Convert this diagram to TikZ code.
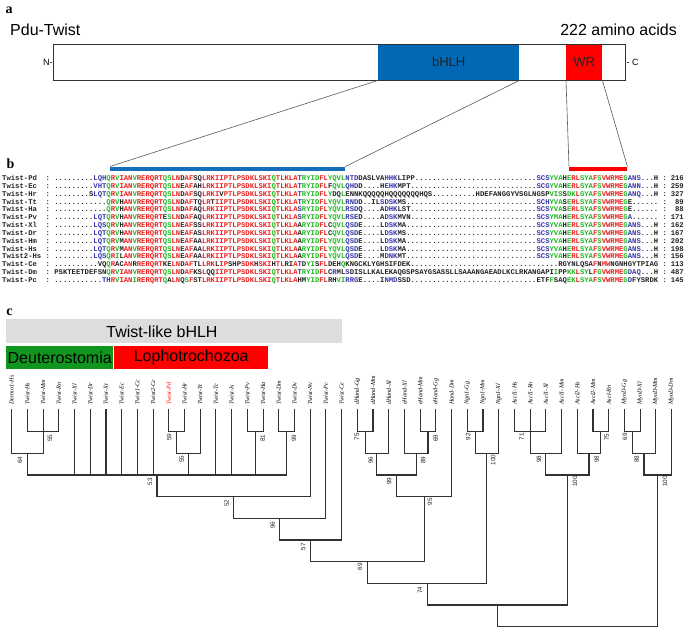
\documentclass[tikz,border=0pt]{standalone}
\usepackage{fontspec}
\setmainfont{Liberation Serif}
\setsansfont{Liberation Sans}
\setmonofont{Liberation Mono}
\definecolor{aared}{RGB}{238,30,30}
\definecolor{aagreen}{RGB}{30,185,30}
\definecolor{aablue}{RGB}{55,55,170}
\definecolor{aatext}{RGB}{35,35,35}
\definecolor{hlhblue}{RGB}{0,104,180}
\definecolor{barblue}{RGB}{20,110,185}
\definecolor{wrred}{RGB}{255,0,0}
\definecolor{deugreen}{RGB}{16,150,30}
\definecolor{boxgray}{RGB}{221,221,221}
\definecolor{treegray}{RGB}{50,50,50}
\definecolor{conngray}{RGB}{90,90,90}
\newcommand\xr[1]{\textcolor{aared}{#1}}
\newcommand\xg[1]{\textcolor{aagreen}{#1}}
\newcommand\xb[1]{\textcolor{aablue}{#1}}
\newcount\dotcnt
\newcommand\dotsn[1]{\dotcnt=#1\relax\loop\ifnum\dotcnt>0 .\advance\dotcnt by -1\repeat}
\begin{document}
\begin{tikzpicture}[x=1pt,y=-1pt,
  plab/.style={inner sep=0pt,font=\bfseries\fontsize{14}{14}\selectfont},
  seqtxt/.style={anchor=base west,inner sep=0pt,text=aatext,font=\ttfamily\bfseries\fontsize{7.24}{8}\selectfont},
  seqnum/.style={anchor=base east,inner sep=0pt,text=aatext,font=\ttfamily\bfseries\fontsize{7.24}{8}\selectfont},
  conn/.style={draw=conngray,line width=0.6pt},
  treeln/.style={draw=treegray,line width=1.1pt,line cap=rect},
  leaflab/.style={rotate=90,anchor=west,inner sep=0pt,font=\itshape\fontsize{6.2}{7}\selectfont},
  bootlab/.style={rotate=90,inner sep=0pt,text=aatext,font=\sffamily\fontsize{6.3}{7}\selectfont},
  bigsans/.style={inner sep=0pt,font=\sffamily\fontsize{16}{18}\selectfont}]
\useasboundingbox (0,0) rectangle (685,629);
\fill[white] (0,0) rectangle (685,629);

% ---------- panel a ----------
\node[plab] (pa) at (9,10) {a};
\node[bigsans,anchor=base west] (pdu) at (10,35) {Pdu-Twist};
\node[bigsans,anchor=base east] (len) at (677,35) {222 amino acids};
\node[fill=white,anchor=north west,minimum width=572,minimum height=36,inner sep=0pt] (bar) at (53,44) {};
\node[fill=hlhblue,anchor=north west,minimum width=141,minimum height=36,inner sep=0pt,text=aatext,font=\sffamily\fontsize{13}{14}\selectfont] (bhlh) at (378,44) {bHLH};
\node[fill=wrred,anchor=north west,minimum width=36,minimum height=36,inner sep=0pt,text=aatext,font=\sffamily\fontsize{13}{14}\selectfont] (wr) at (566,44) {WR};
\draw[draw=treegray,line width=0.8pt] (bar.north west) rectangle (bar.south east);
\node[anchor=east,inner sep=0pt,font=\sffamily\fontsize{9}{10}\selectfont] (nterm) at ([xshift=-0.3]bar.west) {N-};
\node[anchor=west,inner sep=0pt,font=\sffamily\fontsize{9}{10}\selectfont] (cterm) at ([xshift=1]bar.east) {- C};

% ---------- panel b ----------
\node[plab] (pb) at (10.5,163.5) {b};
\node[fill=barblue,anchor=north west,minimum width=235,minimum height=4.5,inner sep=0pt] (bbar) at (110,166.5) {};
\node[fill=wrred,anchor=north west,minimum width=58,minimum height=4.5,inner sep=0pt] (rbar) at (569,166.5) {};
\draw[conn] (bhlh.south west) -- (bbar.north west);
\draw[conn] (bhlh.south east) -- (bbar.north east);
\draw[conn] (wr.south west) -- (rbar.north west);
\draw[conn] (wr.south east) -- (rbar.north east);

\foreach \lab/\num [count=\i] in {Twist-Pd/216,Twist-Ec/259,Twist-Hr/327,Twist-Tt/89,Twist-Ha/88,Twist-Pv/171,Twist-Xl/162,Twist-Dr/167,Twist-Hm/202,Twist-Hs/198,Twist2-Hs/156,Twist-Ce/113,Twist-Dm/487,Twist-Pc/145}{
  \pgfmathsetmacro\yy{180.7+7.82*(\i-1)}
  \node[seqtxt] (lab\i) at (2,\yy) {\lab};
  \node[seqtxt] (col\i) at (45.44,\yy) {:};
  \node[seqtxt] (ecol\i) at (662.3,\yy) {:};
  \node[seqnum] (num\i) at (684,\yy) {\num};
}

\node[seqtxt] (s1) at (54.13,180.70) {\dotsn{9}\xb{LQH}\xg{Q}\xr{R}\xg{V}\xr{IAN}\xg{V}\xr{RERQRT}\xg{QS}\xr{LN}D\xr{AF}SQ\xr{LRKIIPTLPSDKLSKI}\xg{Q}\xr{TLKLA}\xb{T}\xg{RYID}\xr{FL}\xg{YQVL}\xb{NTD}DASLVA\xb{HHK}LIPP\dotsn{28}\xb{SCS}\xg{YVA}H\xg{E}\xr{RL}\xg{SYA}\xr{F}\xg{S}\xr{VWRME}\xg{G}\xb{ANS}\dotsn{3}H};
\node[seqtxt] (s2) at (54.13,188.52) {\dotsn{9}\xb{VHT}\xg{Q}\xr{R}\xg{V}\xr{IAN}\xg{V}\xr{RERQRT}\xg{QS}\xr{LN}E\xr{AF}AH\xr{LRKIIPTLPSDKLSKI}\xg{Q}\xr{TLKLA}\xb{T}\xg{RYID}\xr{FL}F\xg{QVL}\xb{QHD}D\dotsn{4}H\xb{EHK}MPT\dotsn{29}\xb{SCG}\xg{YVA}H\xg{E}\xr{RL}\xg{SYA}\xr{F}\xg{S}\xr{VWRME}\xg{G}\xb{ANN}\dotsn{3}H};
\node[seqtxt] (s3) at (54.13,196.34) {\dotsn{8}S\xb{LQT}\xg{Q}\xr{R}\xg{V}\xr{IAN}\xg{V}\xr{RERQRT}\xg{QS}\xr{LN}D\xr{AF}SQ\xr{LRKI}V\xr{PTLPSDKLSKI}\xg{Q}\xr{TLKLA}\xb{T}\xg{RYID}\xr{FL}\xg{Y}DQ\xg{L}ENNKQQQQQHQQQQQQQHQS\dotsn{10}HDEFANGGYVSGLNGSP\xg{VIS}S\xg{DK}\xr{L}\xg{GYA}\xr{F}\xg{S}\xr{VWRME}\xg{G}\xb{ANQ}\dotsn{3}H};
\node[seqtxt] (s4) at (54.13,204.16) {\dotsn{12}\xg{Q}\xr{R}\xg{V}H\xr{AN}\xg{V}\xr{RERQRT}\xg{QS}\xr{LN}D\xr{AF}TQ\xr{LR}T\xr{IIPTLPSDKLSKI}\xg{Q}\xr{TLKLA}\xb{T}\xg{RYID}\xr{FL}\xg{YQVL}\xb{RND}D\dotsn{2}IL\xb{SDSK}MS\dotsn{30}\xb{SCH}\xg{YVA}S\xg{E}\xr{RL}\xg{SYA}\xr{F}\xg{S}\xr{VWRME}\xg{G}E\dotsn{6}};
\node[seqtxt] (s5) at (54.13,211.98) {\dotsn{12}\xg{Q}\xr{R}\xg{V}H\xr{AN}\xg{V}\xr{RERQRT}\xg{QS}\xr{LN}D\xr{AF}AQ\xr{LRKIIPTLPSDKLSKI}\xg{Q}\xr{TLKLA}\xb{S}\xg{RYID}\xr{FL}\xg{YQVL}\xb{RSD}Q\dotsn{4}A\xb{DHK}LST\dotsn{29}\xb{SCS}\xg{YVA}S\xg{E}\xr{RL}\xg{SYA}\xr{F}\xg{S}\xr{VWRME}\xg{G}E\dotsn{6}};
\node[seqtxt] (s6) at (54.13,219.80) {\dotsn{9}\xb{LQT}\xg{Q}\xr{R}\xg{V}H\xr{AN}\xg{V}\xr{RERQRT}E\xg{S}\xr{LN}D\xr{AF}AQ\xr{LRKIIPTLPSDKLSKI}\xg{Q}\xr{TLKLA}\xb{S}\xg{RYID}\xr{FL}\xg{YQVL}\xb{RSE}D\dotsn{4}A\xb{DSK}MVN\dotsn{29}\xb{SCS}\xg{YMA}H\xg{E}\xr{RL}\xg{SYA}\xr{F}\xg{S}\xr{VWRME}\xg{G}\xb{A}\dotsn{6}};
\node[seqtxt] (s7) at (54.13,227.62) {\dotsn{9}\xb{LQS}\xg{Q}\xr{R}\xg{V}H\xr{AN}\xg{V}\xr{RERQRT}\xg{QS}\xr{LN}E\xr{AF}SS\xr{LRKIIPTLPSDKLSKI}\xg{Q}\xr{TLKLA}A\xg{RYID}\xr{FL}C\xg{QVL}\xb{QSD}E\dotsn{4}L\xb{DSK}MA\dotsn{30}\xb{SCS}\xg{YVA}H\xg{E}\xr{RL}\xg{SYA}\xr{F}\xg{S}\xr{VWRME}\xg{G}\xb{ANS}\dotsn{3}H};
\node[seqtxt] (s8) at (54.13,235.44) {\dotsn{9}\xb{LQT}\xg{Q}\xr{R}\xg{V}H\xr{AN}\xg{V}\xr{RERQRT}\xg{QS}\xr{LN}E\xr{AF}AS\xr{LRKIIPTLPSDKLSKI}\xg{Q}\xr{TLKLA}A\xg{RYID}\xr{FL}C\xg{QVL}\xb{QSD}E\dotsn{4}L\xb{DSK}MS\dotsn{30}\xb{SCS}\xg{YVA}H\xg{E}\xr{RL}\xg{SYA}\xr{F}\xg{S}\xr{VWRME}\xg{G}\xb{ANS}\dotsn{3}H};
\node[seqtxt] (s9) at (54.13,243.26) {\dotsn{9}\xb{LQT}\xg{Q}\xr{R}\xg{V}M\xr{AN}\xg{V}\xr{RERQRT}\xg{QS}\xr{LN}E\xr{AF}AA\xr{LRKIIPTLPSDKLSKI}\xg{Q}\xr{TLKLA}A\xg{RYID}\xr{FL}\xg{YQVL}\xb{QSD}E\dotsn{4}L\xb{DSK}MA\dotsn{30}\xb{SCS}\xg{YVA}H\xg{E}\xr{RL}\xg{SYA}\xr{F}\xg{S}\xr{VWRME}\xg{G}\xb{ANS}\dotsn{3}H};
\node[seqtxt] (s10) at (54.13,251.08) {\dotsn{9}\xb{LQT}\xg{Q}\xr{R}\xg{V}M\xr{AN}\xg{V}\xr{RERQRT}\xg{QS}\xr{LN}E\xr{AF}AA\xr{LRKIIPTLPSDKLSKI}\xg{Q}\xr{TLKLA}A\xg{RYID}\xr{FL}\xg{YQVL}\xb{QSD}E\dotsn{4}L\xb{DSK}MA\dotsn{30}\xb{SCS}\xg{YVA}H\xg{E}\xr{RL}\xg{SYA}\xr{F}\xg{S}\xr{VWRME}\xg{G}\xb{ANS}\dotsn{3}H};
\node[seqtxt] (s11) at (54.13,258.90) {\dotsn{9}\xb{LQS}\xg{Q}\xr{R}\xg{I}L\xr{AN}\xg{V}\xr{RERQRT}\xg{QS}\xr{LN}E\xr{AF}AA\xr{LRKIIPTLPSDKLSKI}\xg{Q}\xr{TLKLA}A\xg{RYID}\xr{FL}\xg{YQVL}\xb{QSD}E\dotsn{4}M\xb{DNK}MT\dotsn{30}\xb{SCS}\xg{YVA}H\xg{E}\xr{RL}\xg{SYA}\xr{F}\xg{S}\xr{VWRME}\xg{G}\xb{ANS}\dotsn{3}H};
\node[seqtxt] (s12) at (54.13,266.72) {\dotsn{10}VQ\xg{Q}\xr{R}AC\xr{AN}R\xr{RERQRT}KE\xr{LN}D\xr{AF}TL\xr{LRK}L\xr{IP}SHP\xr{SDK}H\xr{SKI}H\xr{TL}RI\xr{A}\xb{T}D\xg{YI}S\xr{FL}DEH\xg{Q}KNGCKLYGHSIFDEK\dotsn{34}RGYNLQSA\xr{F}N\xr{MW}NGNHGYTPIAG};
\node[seqtxt] (s13) at (54.13,274.54) {PSKTEETDEFSN\xg{Q}\xr{R}\xg{V}\xr{IAN}\xg{V}\xr{RERQRT}\xg{QS}\xr{LN}D\xr{AF}KS\xr{L}QQ\xr{IIPTLPSDKLSKI}\xg{Q}\xr{TLKLA}\xb{T}\xg{RYID}\xr{FL}C\xb{R}ML\xb{S}DISLLKALEKAQGSPSAYGSASSLLSAAANGAEADLKCLRKANGAPI\xg{I}PP\xg{KK}\xr{L}\xg{SY}L\xr{F}\xg{G}\xr{VWRME}\xg{G}\xb{DAQ}\dotsn{3}H};
\node[seqtxt] (s14) at (54.13,282.36) {\dotsn{11}\xb{TH}\xr{R}\xg{V}\xr{IAN}\xg{I}\xr{RERQRT}\xg{Q}A\xr{LN}Q\xg{S}\xr{F}ST\xr{LRKIIPTLPSDKLSKI}\xg{Q}\xr{TLKLA}HM\xg{YID}\xr{FL}RH\xg{VI}\xb{RRG}E\dotsn{4}I\xb{NMD}SSD\dotsn{29}ETF\xg{F}SAQ\xg{EK}\xr{L}\xg{SYA}\xr{F}\xg{S}\xr{VWRME}\xg{G}\xb{D}FYSRDK};

% ---------- panel c ----------
\node[plab] (pc) at (9.5,312) {c};
\node[fill=boxgray,anchor=north west,minimum width=336,minimum height=24,inner sep=0pt] (tlb) at (6,319) {};
\node[bigsans] (tlbt) at (162,332) {Twist-like bHLH};
\node[fill=deugreen,anchor=north west,minimum width=107,minimum height=23,inner sep=0pt,font=\sffamily\fontsize{16}{18}\selectfont] (deu) at (6,346) {Deuterostomia};
\node[fill=wrred,anchor=north west,minimum width=154,minimum height=23,inner sep=0pt,font=\sffamily\fontsize{16}{18}\selectfont] (lop) at (114,346) {Lophotrochozoa};

\foreach \lab/\col [count=\i] in {Dermo1-Hs/black,Twist-Hs/black,Twist-Mm/black,Twist-Rn/black,Twist-Xl/black,Twist-Dr/black,Twist-Xt/black,Twist-Ec/black,Twist1-Cc/black,Twist2-Cc/black,Twist-Pd/red,Twist-Hr/black,Twist-Tt/black,Twist-Tc/black,Twist-Is/black,Twist-Pv/black,Twist-Ha/black,Twist-Dm/black,Twist-Dv/black,Twist-Nv/black,Twist-Pc/black,Twist-Ce/black,dHand-Gg/black,dHand-Mm/black,dHand-Xl/black,eHand-Xl/black,eHand-Mm/black,eHand-Gg/black,Hand-Dm/black,Ngn1-Gg/black,Ngn1-Mm/black,Ngn1-Xl/black,Ascl1-Hs/black,Ascl1-Rn/black,Ascl1-Xl/black,Ascl1-Mm/black,Ascl2-Hs/black,Ascl2-Mm/black,Ascl-Rn/black,MyoD-Gg/black,MyoD-Xl/black,MyoD-Mm/black,MyoD-Dm/black}{
  \pgfmathsetmacro\xx{11.7+15.71*(\i-1)}
  \node[leaflab,text=\col] (lf\i) at (\xx,405) {\lab};
  \coordinate (t\i) at (\xx,410);
}
% internal nodes
\coordinate (A) at (43.1,431.7);
\coordinate (B) at (27.4,453.3);
\coordinate (C) at (176.6,431.7);
\coordinate (D) at (188.4,453.3);
\coordinate (E) at (255.2,431.7);
\coordinate (F) at (286.7,431.7);
\coordinate (P1) at (157.0,475.0);
\coordinate (P2) at (233.6,496.7);
\coordinate (P3) at (279.8,518.3);
\coordinate (P4) at (310.7,540.0);
\coordinate (H1) at (365.2,431.7);
\coordinate (H2) at (376.9,453.3);
\coordinate (H3) at (428.0,431.7);
\coordinate (H4) at (416.2,453.3);
\coordinate (H5) at (396.6,475.0);
\coordinate (H6) at (424.1,496.7);
\coordinate (P5) at (367.4,561.7);
\coordinate (N1) at (475.2,431.7);
\coordinate (N2) at (486.9,453.3);
\coordinate (P6) at (427.2,583.3);
\coordinate (S1) at (530.1,431.7);
\coordinate (S2) at (545.8,453.3);
\coordinate (S3) at (600.8,431.7);
\coordinate (S4) at (589.0,453.3);
\coordinate (S5) at (567.4,475.0);
\coordinate (P7) at (497.3,605.0);
\coordinate (M1) at (632.2,431.7);
\coordinate (M2) at (644.0,453.3);
\coordinate (M3) at (657.8,475.0);
\coordinate (R) at (577.6,626.7);
\foreach \a/\b in {t2/A,t3/A,t4/A,t1/B,A/B,t11/C,t12/C,C/D,t13/D,t16/E,t17/E,t18/F,t19/F,
  B/P1,t5/P1,t6/P1,t7/P1,t8/P1,t9/P1,t10/P1,D/P1,t14/P1,t15/P1,E/P1,F/P1,
  P1/P2,t20/P2,P2/P3,t21/P3,P3/P4,t22/P4,
  t23/H1,t24/H1,H1/H2,t25/H2,t27/H3,t28/H3,t26/H4,H3/H4,H2/H5,H4/H5,H5/H6,t29/H6,
  P4/P5,H6/P5,t30/N1,t31/N1,N1/N2,t32/N2,P5/P6,N2/P6,
  t33/S1,t34/S1,t35/S1,S1/S2,t36/S2,t38/S3,t39/S3,t37/S4,S3/S4,S2/S5,S4/S5,
  P6/P7,S5/P7,t40/M1,t41/M1,M1/M2,t42/M2,M2/M3,t43/M3,P7/R,M3/R}{
  \draw[treeln] (\a) |- (\b);
}
\foreach \x/\y/\v [count=\k] in {50/438/55,20/460/64,169.3/437/59,181.7/459/55,262.7/438/81,294/438/99,150/481.7/53,226.7/503/52,272.7/525/96,303.3/546.7/57,356.7/436.7/75,435.7/438/69,370.7/460/96,423.3/460/89,389.3/481/99,430/501.7/95,468.3/436.7/92,493.3/460/100,521.7/436.7/71,539/459/98,606.7/437/75,596.7/459/98,575/481.7/100,625/436.7/69,636.7/459/88,665/481.7/100,360/566.7/69,420/590/74}{
  \node[bootlab] (bs\k) at (\x,\y) {\v};
}
\end{tikzpicture}
\end{document}
